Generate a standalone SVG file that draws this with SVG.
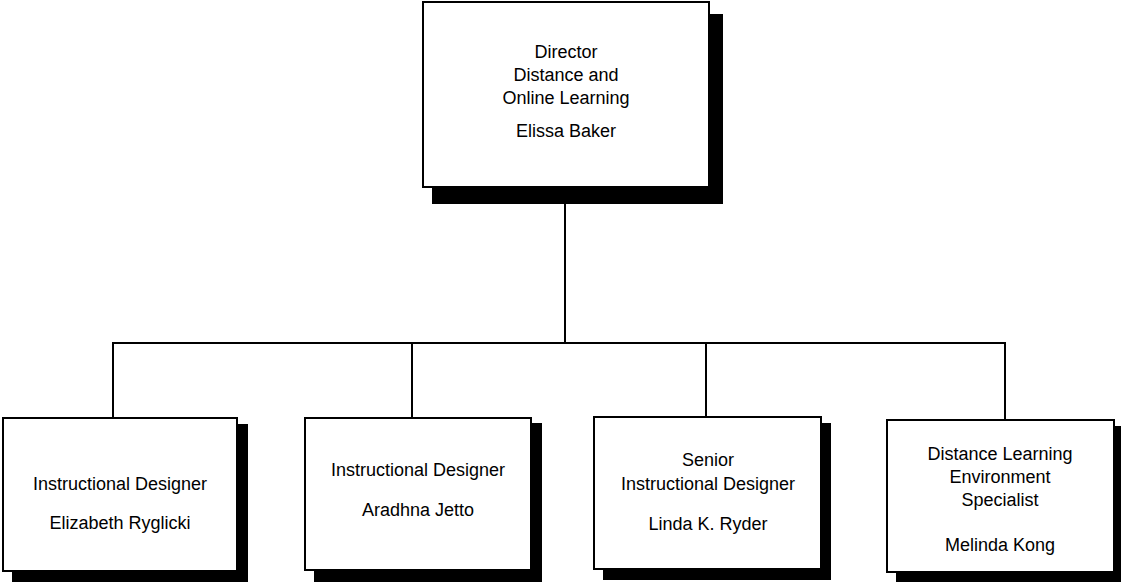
<svg xmlns="http://www.w3.org/2000/svg" width="1123" height="582" viewBox="0 0 1123 582">
<style>
.shadow{fill:#000}
.box{fill:#fff;stroke:#000;stroke-width:2}
.conn{stroke:#000;stroke-width:2;fill:none}
text{font-family:"Liberation Sans",Arial,sans-serif;font-size:18px;fill:#000;text-anchor:middle}
</style>
<rect width="1123" height="582" fill="#fff"/>
<g id="connectors">
<line class="conn" x1="565" y1="190" x2="565" y2="343"/>
<line class="conn" x1="112" y1="343" x2="1006" y2="343"/>
<line class="conn" x1="113" y1="343" x2="113" y2="418"/>
<line class="conn" x1="412" y1="343" x2="412" y2="418"/>
<line class="conn" x1="706" y1="343" x2="706" y2="417"/>
<line class="conn" x1="1005" y1="343" x2="1005" y2="420"/>
</g>
<g id="director">
<rect class="shadow" x="432" y="14" width="291" height="190"/>
<rect class="box" x="423" y="2" width="286" height="185"/>
<text x="566" y="58">Director</text>
<text x="566" y="81">Distance and</text>
<text x="566" y="104">Online Learning</text>
<text x="566" y="137">Elissa Baker</text>
</g>
<g id="ryglicki">
<rect class="shadow" x="12" y="424" width="236" height="158"/>
<rect class="box" x="3" y="418" width="234" height="153"/>
<text x="120" y="490">Instructional Designer</text>
<text x="120" y="529">Elizabeth Ryglicki</text>
</g>
<g id="jetto">
<rect class="shadow" x="314" y="423" width="228" height="159"/>
<rect class="box" x="305" y="418" width="226" height="152"/>
<text x="418" y="476">Instructional Designer</text>
<text x="418" y="516">Aradhna Jetto</text>
</g>
<g id="ryder">
<rect class="shadow" x="603" y="423" width="228" height="157"/>
<rect class="box" x="594" y="417" width="227" height="152"/>
<text x="708" y="466">Senior</text>
<text x="708" y="490">Instructional Designer</text>
<text x="708" y="530">Linda K. Ryder</text>
</g>
<g id="kong">
<rect class="shadow" x="896" y="426" width="225" height="156"/>
<rect class="box" x="887" y="420" width="227" height="152"/>
<text x="1000" y="460">Distance Learning</text>
<text x="1000" y="483">Environment</text>
<text x="1000" y="506">Specialist</text>
<text x="1000" y="551">Melinda Kong</text>
</g>
</svg>
